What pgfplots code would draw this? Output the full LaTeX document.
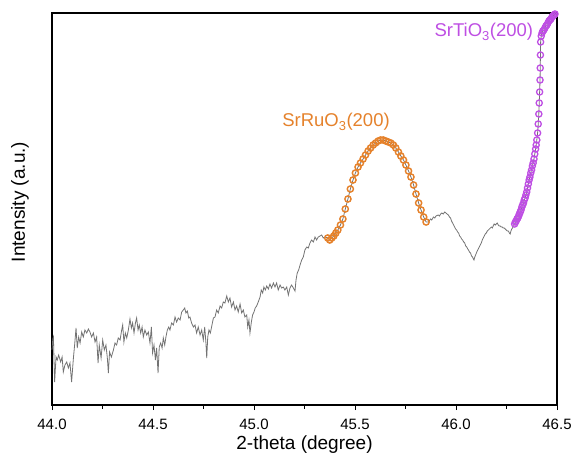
\documentclass[border=0pt]{standalone}
\usepackage{pgfplots}
\usepackage{pgfplotstable}
\usepackage{fontspec}
\setmainfont{Liberation Sans}
\pgfplotsset{compat=1.18}
\definecolor{linegray}{HTML}{737373}
\definecolor{sroorange}{HTML}{E5822C}
\definecolor{stopurple}{HTML}{BE4FE3}

% noisy background, 44.0 -> start of SrRuO3 peak
\pgfplotstableread{
x v
44.000 55
44.004 66
44.007 68
44.013 23
44.020 48
44.026 45
44.033 50
44.043 43
44.050 48
44.056 33
44.064 40
44.073 43
44.081 37
44.089 42
44.097 23
44.106 47
44.112 60
44.119 77
44.125 57
44.132 68
44.139 62
44.147 73
44.155 68
44.163 75
44.172 72
44.180 76
44.188 73
44.196 68
44.205 72
44.213 63
44.221 68
44.228 42
44.234 60
44.243 47
44.251 65
44.259 55
44.267 60
44.274 47
44.279 32
44.285 53
44.294 48
44.304 55
44.312 62
44.320 60
44.328 67
44.337 65
44.345 75
44.350 80
44.356 63
44.363 72
44.370 67
44.378 75
44.386 86
44.393 77
44.399 82
44.406 72
44.413 82
44.419 87
44.426 75
44.432 80
44.439 72
44.446 78
44.452 68
44.460 75
44.469 70
44.477 73
44.485 62
44.492 78
44.498 52
44.505 60
44.512 45
44.518 57
44.525 32
44.531 58
44.538 62
44.545 57
44.551 67
44.558 60
44.564 68
44.571 75
44.578 78
44.584 75
44.592 82
44.601 80
44.609 88
44.617 83
44.625 87
44.634 85
44.642 93
44.650 95
44.657 97
44.663 92
44.670 94
44.677 87
44.683 88
44.691 82
44.700 78
44.708 80
44.716 72
44.724 78
44.733 70
44.741 75
44.749 65
44.756 78
44.762 62
44.766 47
44.771 68
44.777 75
44.784 72
44.790 78
44.799 87
44.807 88
44.815 95
44.823 92
44.832 99
44.840 97
44.848 103
44.856 102
44.865 109
44.873 103
44.881 107
44.889 98
44.898 103
44.906 95
44.914 99
44.922 93
44.931 101
44.939 92
44.947 95
44.955 88
44.964 90
44.969 78
44.975 85
44.980 72
44.987 83
44.993 90
45.000 93
45.006 97
45.013 99
45.021 103
45.030 108
45.036 115
45.043 112
45.049 118
45.056 115
45.063 119
45.071 116
45.079 121
45.087 117
45.096 122
45.104 118
45.112 122
45.120 115
45.129 120
45.137 117
45.145 118
45.153 115
45.162 118
45.170 110
45.178 117
45.186 120
45.195 117
45.203 114
45.208 125
45.214 132
45.221 135
45.228 140
45.236 145
45.244 148
45.252 155
45.261 158
45.269 157
45.277 162
45.285 165
45.294 163
45.302 168
45.310 165
45.318 168
45.327 169
45.335 170
45.343 167
45.351 168
45.365 167
}\graynoise

% SrRuO3 (200) peak
\pgfplotstableread{
x v
45.365 167
45.375 165
45.385 167
45.395 169
45.405 172
45.415 175
45.428 180
45.440 186
45.452 196
45.465 206
45.477 216
45.490 225
45.502 232
45.515 238
45.527 242
45.540 246
45.552 250
45.565 254
45.577 257
45.590 260
45.602 262
45.615 264
45.627 265
45.640 265
45.652 264
45.665 263
45.677 262
45.690 260
45.702 257
45.715 253
45.727 249
45.740 245
45.752 240
45.765 234
45.777 228
45.790 220
45.802 211
45.815 202
45.827 195
45.840 188
45.852 183
}\sroTable

% between the two peaks
\pgfplotstableread{
x v
45.852 183
45.863 183
45.874 186
45.880 185
45.888 188
45.895 187
45.901 189
45.912 190
45.918 189
45.924 191
45.930 192
45.937 191
45.944 193
45.950 192
45.956 191
45.962 190
45.968 188
45.973 187
45.978 184
45.983 182
45.988 180
45.993 178
45.998 176
46.003 175
46.008 173
46.013 172
46.018 169
46.023 168
46.028 166
46.033 165
46.038 163
46.043 162
46.048 159
46.053 158
46.058 156
46.062 155
46.067 153
46.072 152
46.077 149
46.082 148
46.086 146
46.089 145
46.093 148
46.097 150
46.101 152
46.105 154
46.110 156
46.115 158
46.120 160
46.125 162
46.130 165
46.135 167
46.140 169
46.145 171
46.150 172
46.155 174
46.160 175
46.165 176
46.170 177
46.175 178
46.180 177
46.184 179
46.189 181
46.194 180
46.199 181
46.204 182
46.209 180
46.214 179
46.219 179
46.224 178
46.229 178
46.234 177
46.239 177
46.244 176
46.249 175
46.254 174
46.259 174
46.264 172
46.268 171
46.272 174
46.276 176
46.280 177
46.285 179
46.290 181
}\grayvalley

% SrTiO3 (200) substrate peak flank
\pgfplotstableread{
x v
46.290 181
46.294 183
46.298 184
46.302 186
46.306 187
46.310 189
46.314 191
46.318 193
46.322 195
46.326 198
46.330 200
46.334 202
46.338 205
46.342 207
46.346 210
46.350 213
46.354 217
46.358 221
46.362 225
46.366 228
46.370 232
46.374 235
46.378 239
46.382 242
46.386 246
46.390 251
46.394 256
46.397 260
46.400 265
46.404 272
46.407 281
46.410 291
46.412 302
46.414 313
46.416 325
46.417 337
46.418 350
46.419 363
46.422 369
46.426 372
46.430 374
46.435 375
46.440 377
46.445 379
46.450 380
46.455 382
46.460 384
46.465 385
46.470 386
46.475 388
46.480 389
46.485 390
46.490 391
}\stoTable

\begin{document}
\begin{tikzpicture}
\begin{axis}[
at={(0,0)},
anchor=south west,
scale only axis,
width=505bp,
height=392bp,
xmin=44, xmax=46.5,
ymin=0, ymax=392,
clip=false,
xtick={44,44.5,45,45.5,46,46.5},
minor x tick num=1,
xtick pos=left,
ytick=\empty,
tick align=outside,
major tick length=5bp,
minor tick length=3.5bp,
every tick/.style={black, line width=1bp},
axis line style={black, line width=1.1bp},
/pgf/number format/assume math mode=true,
xticklabel style={/pgf/number format/fixed, /pgf/number format/fixed zerofill,
  /pgf/number format/precision=1, font=\fontsize{15bp}{18bp}\selectfont, yshift=-6bp},
xlabel={2-theta (degree)},
ylabel={Intensity (a.u.)},
every axis x label/.style={at={(axis description cs:0.5,0)}, anchor=center,
  yshift=-40bp, font=\fontsize{19bp}{22bp}\selectfont},
every axis y label/.style={at={(axis description cs:-0.0634,0.518)}, anchor=center,
  rotate=90, font=\fontsize{19bp}{22bp}\selectfont},
]
\addplot[linegray, line width=0.8bp] table[x=x, y=v] {\graynoise};
\addplot[linegray, line width=0.8bp, mark=o, mark size=3.1bp,
  mark options={sroorange, line width=1.45bp, solid}] table[x=x, y=v] {\sroTable};
\addplot[linegray, line width=0.8bp] table[x=x, y=v] {\grayvalley};
\addplot[linegray, line width=0.8bp, mark=o, mark size=3.1bp,
  mark options={stopurple, line width=1.3bp, solid}] table[x=x, y=v] {\stoTable};

\node[anchor=base, text=sroorange, font=\fontsize{18.5bp}{22bp}\selectfont]
  at (axis cs:45.406,278) {SrRuO\textsubscript{3}(200)};
\node[anchor=base, text=stopurple, font=\fontsize{18.5bp}{22bp}\selectfont]
  at (axis cs:46.138,368) {SrTiO\textsubscript{3}(200)};
\end{axis}
\pgfresetboundingbox
\path[use as bounding box] (-52bp,-55bp) rectangle (520bp,405bp);
\end{tikzpicture}
\end{document}
